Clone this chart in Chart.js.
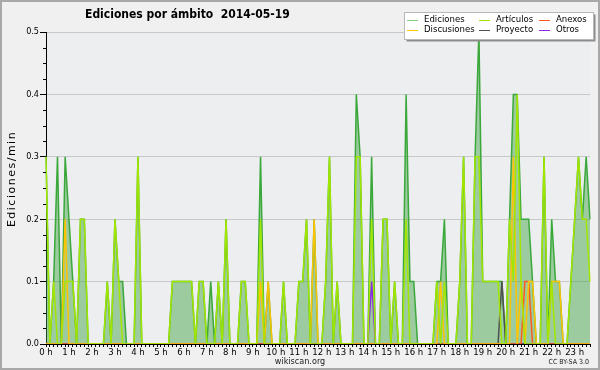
<!DOCTYPE html>
<html>
<head>
<meta charset="utf-8">
<script src="https://cdn.jsdelivr.net/npm/chart.js@4/dist/chart.umd.min.js"></script>
<style>
   html, body { margin: 0; padding: 0; background: #f0f0f0; }
   #grafico { display: block; }
</style>
</head>
<body>
<canvas id="grafico" width="600" height="370"></canvas>
<script>
// Etiquetas de las horas (eje X)
const horas = ['0 h','1 h','2 h','3 h','4 h','5 h','6 h','7 h','8 h','9 h','10 h','11 h',
               '12 h','13 h','14 h','15 h','16 h','17 h','18 h','19 h','20 h','21 h','22 h','23 h'];

// Intervalos de 10 minutos (0:00 ... 23:40)
const minutos = [];
for (let i = 0; i < 143; i++) {
   minutos.push(`${Math.floor(i / 6)}:${(i % 6) * 10 || '00'}`);
}

const ediciones = [
   0.3,0,0.1,0.3,0,0.3,0.2,0.1,0,0.2,
   0.2,0,0,0,0,0,0.1,0,0.2,0.1,
   0.1,0,0,0,0.3,0,0,0,0,0,
   0,0,0,0.1,0.1,0.1,0.1,0.1,0.1,0,
   0.1,0.1,0,0.1,0,0.1,0,0.2,0,0,
   0,0.1,0.1,0,0,0,0.3,0,0.1,0,
   0,0,0.1,0,0,0,0.1,0.1,0.2,0,
   0.2,0,0,0.1,0.3,0,0.1,0,0,0,
   0,0.4,0.3,0,0,0.3,0,0,0.2,0.2,
   0,0.1,0,0,0.4,0.1,0.1,0,0,0,
   0,0,0.1,0.1,0.2,0,0,0,0.1,0.3,
   0,0,0.3,0.5,0.1,0.1,0.1,0.1,0.1,0.1,
   0,0.2,0.4,0.4,0.2,0.2,0.2,0.1,0,0,
   0.3,0,0.2,0.1,0.1,0,0,0.1,0.2,0.3,
   0.2,0.3,0.2
];

const articulos = [
   0.3,0,0.1,0,0,0.1,0.1,0.1,0,0.2,
   0.2,0,0,0,0,0,0.1,0,0.2,0.1,
   0,0,0,0,0.3,0,0,0,0,0,
   0,0,0,0.1,0.1,0.1,0.1,0.1,0.1,0,
   0.1,0.1,0,0,0,0.1,0,0.2,0,0,
   0,0.1,0.1,0,0,0,0.2,0,0,0,
   0,0,0.1,0,0,0,0.1,0.1,0.2,0,
   0,0,0,0.1,0.3,0,0.1,0,0,0,
   0,0.3,0.3,0,0,0.2,0,0,0.2,0.2,
   0,0.1,0,0,0.2,0,0,0,0,0,
   0,0,0.1,0,0.1,0,0,0,0.1,0.3,
   0,0,0.3,0.3,0.1,0.1,0.1,0.1,0.1,0,
   0,0.2,0.1,0.4,0.1,0,0,0,0,0,
   0.3,0,0.1,0,0,0,0,0.1,0.2,0.3,
   0.2,0.2,0.1
];

const discusiones = [
   0,0,0,0,0,0.2,0,0,0,0,
   0,0,0,0,0,0,0,0,0,0,
   0,0,0,0,0,0,0,0,0,0,
   0,0,0,0,0,0,0,0,0,0,
   0,0,0,0,0,0,0,0,0,0,
   0,0,0,0,0,0,0.1,0,0.1,0,
   0,0,0,0,0,0,0,0,0,0,
   0.2,0,0,0,0,0,0,0,0,0,
   0,0,0,0,0,0,0,0,0,0,
   0,0,0,0,0,0,0,0,0,0,
   0,0,0,0.1,0,0,0,0,0,0,
   0,0,0,0,0,0,0,0,0,0,
   0,0,0.3,0,0.1,0,0.1,0.1,0,0,
   0,0,0.1,0.1,0.1,0,0,0,0,0,
   0,0,0
];

const anexos = [
   0,0,0,0,0,0,0,0,0,0, 0,0,0,0,0,0,0,0,0,0, 0,0,0,0,0,0,0,0,0,0,
   0,0,0,0,0,0,0,0,0,0, 0,0,0,0,0,0,0,0,0,0, 0,0,0,0,0,0,0,0,0,0,
   0,0,0,0,0,0,0,0,0,0, 0,0,0,0,0,0,0,0,0,0, 0,0,0,0,0,0,0,0,0,0,
   0,0,0,0,0,0,0,0,0,0, 0,0,0,0,0,0,0,0,0,0, 0,0,0,0,0,0,0,0,0,0,
   0,0,0,0,0,0.1,0.1,0,0,0, 0,0,0,0,0,0,0,0,0,0, 0,0,0
];

const proyecto = [
   0,0,0,0,0,0,0,0,0,0, 0,0,0,0,0,0,0,0,0,0, 0,0,0,0,0,0,0,0,0,0,
   0,0,0,0,0,0,0,0,0,0, 0,0,0,0,0,0,0,0,0,0, 0,0,0,0,0,0,0,0,0,0,
   0,0,0,0,0,0,0,0,0,0, 0,0,0,0,0,0,0,0,0,0, 0,0,0,0,0,0,0,0,0,0,
   0,0,0,0,0,0,0,0,0,0, 0,0,0,0,0,0,0,0,0,0, 0,0,0,0,0,0,0,0,0,0.1,
   0,0,0,0,0,0,0,0,0,0, 0,0,0,0,0,0,0,0,0,0, 0,0,0
];

const otros = [
   0,0,0,0,0,0,0,0,0,0, 0,0,0,0,0,0,0,0,0,0, 0,0,0,0,0,0,0,0,0,0,
   0,0,0,0,0,0,0,0,0,0, 0,0,0,0,0,0,0,0,0,0, 0,0,0,0,0,0,0,0,0,0,
   0,0,0,0,0,0,0,0,0,0, 0,0,0,0,0,0,0,0,0,0, 0,0,0,0,0,0.1,0,0,0,0,
   0,0,0,0,0,0,0,0,0,0, 0,0,0,0,0,0,0,0,0,0, 0,0,0,0,0,0,0,0,0,0,
   0,0,0,0,0,0,0,0,0,0, 0,0,0,0,0,0,0,0,0,0, 0,0,0
];

const FUENTE = "'DejaVu Sans Condensed', 'DejaVu Sans', sans-serif";

function serie(label, data, color, extra) {
   return Object.assign({
      label: label,
      data: data,
      borderColor: color,
      backgroundColor: color,
      borderWidth: 1.5,
      pointRadius: 0,
      tension: 0,
      fill: false,
      order: 0
   }, extra || {});
}

// Fondo, leyenda, titulo y textos fijos
const decorado = {
   id: 'decorado',
   beforeDraw(chart) {
      const ctx = chart.ctx;
      const a = chart.chartArea;
      ctx.save();
      ctx.fillStyle = '#f0f0f0';
      ctx.fillRect(0, 0, chart.width, chart.height);
      ctx.fillStyle = '#eceef0';
      ctx.fillRect(a.left, a.top, a.right - a.left, a.bottom - a.top);
      ctx.strokeStyle = '#a8a8a8';
      ctx.lineWidth = 2;
      ctx.strokeRect(1, 1, chart.width - 2, chart.height - 2);
      ctx.restore();
   },
   afterDraw(chart) {
      const ctx = chart.ctx;
      const y = chart.scales.y;
      ctx.save();

      // Marcas menores del eje Y
      ctx.strokeStyle = '#000';
      ctx.lineWidth = 1;
      ctx.beginPath();
      for (let k = 0; k <= 20; k++) {
         if (k % 4 === 0) continue;
         const py = Math.round(y.getPixelForValue(k * 0.025)) + 0.5;
         ctx.moveTo(y.right - 3, py);
         ctx.lineTo(y.right, py);
      }
      ctx.stroke();

      // Titulo
      ctx.fillStyle = '#000';
      ctx.font = `bold 12px ${FUENTE}`;
      ctx.textAlign = 'left';
      ctx.textBaseline = 'alphabetic';
      ctx.fillText('Ediciones por ámbito  2014-05-19', 85, 18);

      // Titulo del eje Y
      ctx.save();
      ctx.translate(12, 179);
      ctx.rotate(-Math.PI / 2);
      ctx.textAlign = 'center';
      ctx.textBaseline = 'middle';
      ctx.font = "11px 'DejaVu Sans', sans-serif";
      ctx.letterSpacing = '1.5px';
      ctx.fillText('Ediciones/min', 0, 0);
      ctx.letterSpacing = '0px';
      ctx.restore();

      // Pie
      ctx.font = `9px ${FUENTE}`;
      ctx.textAlign = 'center';
      ctx.fillStyle = '#222';
      ctx.fillText('wikiscan.org', 300, 364);
      ctx.font = `7px ${FUENTE}`;
      ctx.textAlign = 'right';
      ctx.fillText('CC BY-SA 3.0', 589, 364);

      // Leyenda
      const box = { x: 404.5, y: 12.5, w: 189, h: 27 };
      ctx.fillStyle = '#8c8c8c';
      ctx.fillRect(box.x + 2, box.y + 2, box.w, box.h);
      ctx.fillStyle = '#fff';
      ctx.fillRect(box.x, box.y, box.w, box.h);
      ctx.strokeStyle = '#b8b8b8';
      ctx.lineWidth = 1;
      ctx.strokeRect(box.x, box.y, box.w, box.h);

      const colX = [407, 479, 539];
      const rowY = [19.5, 29.5];
      const orden = [0, 1, 3, 2, 4, 5]; // Ediciones, Articulos, Anexos / Discusiones, Proyecto, Otros
      ctx.font = `9.5px ${FUENTE}`;
      ctx.textAlign = 'left';
      ctx.textBaseline = 'middle';
      orden.forEach((d, n) => {
         const ds = chart.data.datasets[d];
         const cx = colX[n % 3];
         const cy = rowY[Math.floor(n / 3)];
         ctx.strokeStyle = ds.legendColor || ds.borderColor;
         ctx.beginPath();
         ctx.moveTo(cx, Math.round(cy) + 0.5);
         ctx.lineTo(cx + 11, Math.round(cy) + 0.5);
         ctx.stroke();
         ctx.fillStyle = '#000';
         ctx.fillText(ds.label, cx + 17, cy);
      });
      ctx.restore();
   }
};

new Chart(document.getElementById('grafico'), {
   type: 'line',
   data: {
      labels: minutos,
      datasets: [
         serie('Ediciones', ediciones, '#3aa83a', {
            fill: 'origin',
            backgroundColor: 'rgba(60, 160, 60, 0.45)',
            legendColor: '#88cc88',
            order: 1
         }),
         serie('Artículos', articulos, '#a2e600'),
         serie('Discusiones', discusiones, '#ffc400'),
         serie('Anexos', anexos, '#ff5a1e'),
         serie('Proyecto', proyecto, '#505050'),
         serie('Otros', otros, '#8a2be2')
      ]
   },
   options: {
      responsive: false,
      animation: false,
      events: [],
      layout: { padding: { left: 0, right: 10, top: 32, bottom: 12 } },
      plugins: {
         legend: { display: false },
         title: { display: false },
         tooltip: { enabled: false }
      },
      scales: {
         x: {
            type: 'category',
            offset: false,
            z: 1,
            grid: {
               drawOnChartArea: false,
               tickLength: 3,
               tickColor: '#000'
            },
            border: { color: '#000', width: 1 },
            ticks: {
               autoSkip: false,
               maxRotation: 0,
               minRotation: 0,
               padding: 0,
               color: '#000',
               font: { family: FUENTE, size: 9.5 },
               callback: (v, idx) => (idx % 6 === 0 ? horas[idx / 6] : '')
            },
            afterFit: (scale) => { scale.height = 14; }
         },
         y: {
            min: 0,
            max: 0.5,
            z: 1,
            grid: {
               color: '#c8c8c8',
               tickColor: '#000',
               tickLength: 6,
               lineWidth: 1
            },
            border: { color: '#000', width: 1 },
            ticks: {
               stepSize: 0.1,
               padding: 1,
               color: '#000',
               font: { family: FUENTE, size: 9 },
               callback: (v) => v.toFixed(1)
            },
            afterFit: (scale) => { scale.width = 46; }
         }
      }
   },
   plugins: [decorado]
});
</script>
</body>
</html>
